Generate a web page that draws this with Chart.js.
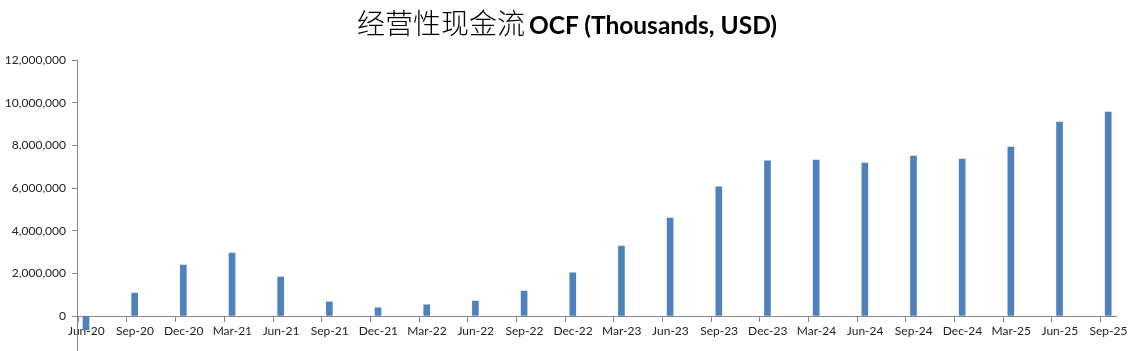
<!DOCTYPE html>
<html>
<head>
<meta charset="utf-8">
<script src="https://cdn.jsdelivr.net/npm/chart.js@4"></script>
<style>
  html, body { margin: 0; padding: 0; background: #fff; overflow: hidden; }
  #wrap { position: relative; width: 1147px; height: 380px; }
  #title {
    position: absolute; left: 0; top: 5px; width: 1134px; text-align: center;
    line-height: 34px; color: #000; z-index: 2; white-space: nowrap;
  }
  #title .zh { font-family: "Noto Sans CJK SC"; font-weight: 300; font-size: 28px; }
  #title .en { font-family: Lato, sans-serif; font-weight: bold; font-size: 24.5px; }
</style>
</head>
<body>
<div id="wrap">
  <div id="title"><span class="zh">经营性现金流</span> <span class="en">OCF (Thousands, USD)</span></div>
  <canvas id="ocfChart"></canvas>
</div>
<script>
// quarter labels
var quarters = ['Jun-20', 'Sep-20', 'Dec-20', 'Mar-21', 'Jun-21', 'Sep-21', 'Dec-21', 'Mar-22',
                'Jun-22', 'Sep-22', 'Dec-22', 'Mar-23', 'Jun-23', 'Sep-23', 'Dec-23', 'Mar-24',
                'Jun-24', 'Sep-24', 'Dec-24', 'Mar-25', 'Jun-25', 'Sep-25'];
// operating cash flow, thousands USD
var ocf = [-650000, 1080000, 2390000, 2950000, 1830000, 660000, 390000, 520000,
           700000, 1170000, 2020000, 3280000, 4590000, 6050000, 7270000, 7310000,
           7170000, 7500000, 7360000, 7920000, 9090000, 9560000];
var yTicks = { min: -2000000, max: 12000000, step: 2000000 };

var axisGray = '#868686';
var tickShift = -0.158;

var ctx = document.getElementById('ocfChart').getContext('2d');
var myChart = new Chart(ctx, {
    type: 'bar',
    data: {
        datasets: [{
            label: 'OCF',
            data: ocf.map(function (v, i) { return { x: i, y: v }; }),
            backgroundColor: '#4F81BD',
            barThickness: 6
        }]
    },
    options: {
        responsive: true,
        maintainAspectRatio: false,
        animation: false,
        layout: { padding: { top: 60, left: 0, right: 31, bottom: 21.3 } },
        plugins: {
            legend: { display: false },
            title: { display: false },
            tooltip: { enabled: false }
        },
        scales: {
            x: {
                type: 'linear',
                position: { y: 0 },
                offset: false,
                min: -0.185,
                max: 21.16,
                afterBuildTicks: function (scale) {
                    scale.ticks = quarters.map(function (q, i) { return { value: i + tickShift }; });
                },
                grid: { drawOnChartArea: false, offset: false, tickLength: 5, color: axisGray },
                border: { color: axisGray },
                ticks: {
                    autoSkip: false,
                    maxRotation: 0,
                    padding: 3,
                    labelOffset: 8,
                    color: '#222',
                    font: { family: 'Lato', size: 12 },
                    callback: function (value, index) { return quarters[index]; }
                }
            },
            y: {
                min: yTicks.min,
                max: yTicks.max,
                afterFit: function (scale) { scale.width = 77; },
                grid: { drawOnChartArea: false, tickLength: 5, color: axisGray },
                border: { color: axisGray },
                ticks: {
                    stepSize: yTicks.step,
                    padding: 6,
                    color: '#222',
                    font: { family: 'Lato', size: 12 },
                    callback: function (v) { return v.toLocaleString('en-US'); }
                }
            }
        }
    }
});
</script>
</body>
</html>
